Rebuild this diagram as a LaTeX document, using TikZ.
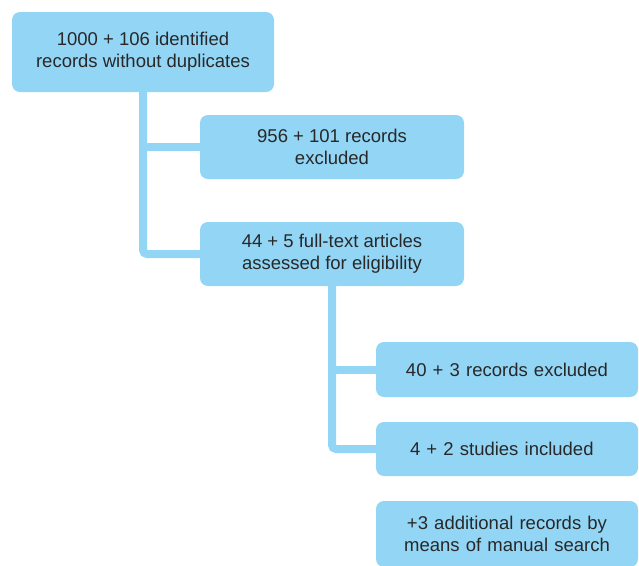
\documentclass[tikz,border=0pt]{standalone}
\usepackage{fontspec}
\setmainfont{Liberation Sans}
\usetikzlibrary{backgrounds}
\definecolor{boxblue}{RGB}{147,213,245}
\definecolor{txt}{RGB}{40,40,40}
\tikzset{
  box/.style={rectangle, rounded corners=8pt, fill=boxblue, text=txt, inner sep=0pt,
    align=center, font=\fontsize{18.5}{22}\selectfont},
  conn/.style={draw=boxblue, line width=8pt, rounded corners=4pt}
}
\begin{document}
\begin{tikzpicture}[x=1pt,y=-1pt]
\useasboundingbox (0,0) rectangle (639,565);
\node[box, minimum width=262pt, minimum height=80pt] (b1) at (143,52) {1000 + 106 identified\\records without duplicates};
\node[box, minimum width=264pt, minimum height=64pt] (b2) at (332,147) {956 + 101 records\\excluded};
\node[box, minimum width=264pt, minimum height=64pt] (b3) at (332,254) {44 + 5 full-text articles\\assessed for eligibility};
\node[box, minimum width=262pt, minimum height=55pt, text width=240pt] (b4) at (507,369.5) {40 + 3 records excluded};
\node[box, minimum width=262pt, minimum height=54pt, text width=194pt, align=left] (b5) at (507,449) {4 + 2 studies included};
\node[box, minimum width=262pt, minimum height=66pt, text width=240pt] (b6) at (507,534) {+3 additional records by\\means of manual search};
\begin{scope}[on background layer]
\draw[conn] (b1.south) |- (b3.west);
\draw[conn] (b1.south |- b2.west) -- (b2.west);
\draw[conn] (b3.south) |- (b5.west);
\draw[conn] (b3.south |- b4.west) -- (b4.west);
\end{scope}
\end{tikzpicture}
\end{document}
